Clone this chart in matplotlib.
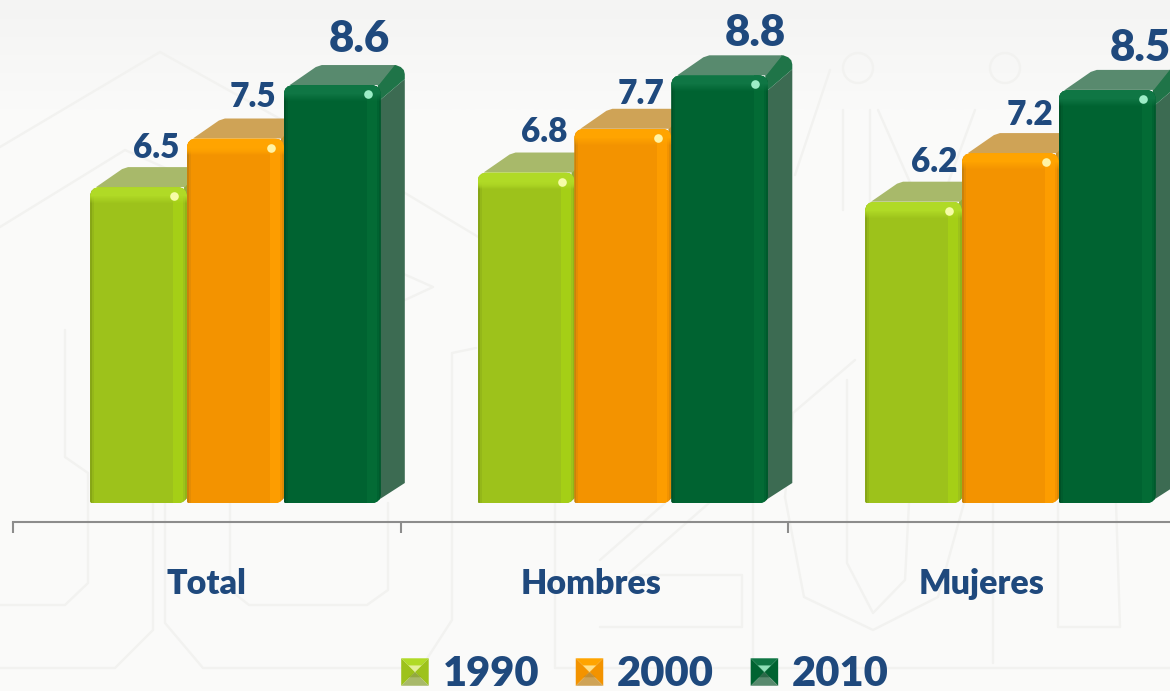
import numpy as np
import matplotlib
matplotlib.use("Agg")
import matplotlib.pyplot as plt
from matplotlib.lines import Line2D
from matplotlib.patches import PathPatch, Polygon, Rectangle, Circle
from matplotlib.path import Path
from matplotlib.transforms import ScaledTranslation
from matplotlib.legend_handler import HandlerBase

categories = ["Total", "Hombres", "Mujeres"]
years = ["1990", "2000", "2010"]
values_1990 = [6.5, 6.8, 6.2]
values_2000 = [7.5, 7.7, 7.2]
values_2010 = [8.6, 8.8, 8.5]

W, H = 1170, 691
FRONT = ["#9dc21b", "#f39300", "#006331"]
LIGHT = ["#a6d116", "#ff9f00", "#046d36"]
BAND = ["#b0da26", "#ffa400", "#0f7644"]
EDGE = ["#7d9a14", "#b97a10", "#004a24"]
TOP = ["#a8b96a", "#cfa356", "#588a6e"]
SIDE = ["#8fa14f", "#b98a3c", "#3c6b52"]
WEDGE = ["#94ab3c", "#c9922f", "#1f7448"]
SPOT = ["#fbffb0", "#fff8b0", "#a5f5cf"]
GLINT = ["#e4f09a", "#ffe08a", "#8fe0b8"]
TEXT = "#1f497d"
WEIGHT = "heavy"
plt.rcParams["font.family"] = ["Lato", "DejaVu Sans"]

fig = plt.figure(figsize=(W / 100, H / 100), dpi=100, facecolor="#fafaf9")

# background and faint watermark, in pixel coordinates
bg = fig.add_axes([0, 0, 1, 1], zorder=-1)
shade = np.linspace(0, 1, 110)[:, None]
bg.imshow(shade, extent=(0, W, 110, 0),
          cmap=matplotlib.colors.LinearSegmentedColormap.from_list("g", ["#f4f4f3", "#fafaf9"]),
          aspect="auto", zorder=0)
bg.set_xlim(0, W); bg.set_ylim(H, 0); bg.axis("off")
wm = dict(color="#f2f2f0", lw=1.7, solid_capstyle="round", solid_joinstyle="round", zorder=1)
strokes = [
    [(0, 147), (160, 52), (300, 130), (480, 238)],
    [(0, 227), (125, 150), (433, 287), (405, 300)],
    [(65, 330), (65, 457), (88, 473), (88, 583), (65, 605), (0, 605)],
    [(153, 503), (153, 630), (115, 668), (0, 668)],
    [(165, 503), (165, 623), (203, 668), (421, 668), (452, 620), (452, 353), (476, 348)],
    [(230, 503), (230, 590), (249, 605), (367, 605), (388, 590), (388, 503)],
    [(555, 503), (555, 668), (1170, 668)],
    [(785, 497), (793, 413), (855, 360)],
    [(785, 497), (804, 597), (873, 630), (938, 597), (964, 503)],
    [(847, 380), (847, 563), (873, 613), (905, 580), (909, 503)],
    [(993, 503), (993, 663)],
    [(1058, 503), (1058, 627), (1120, 627), (1116, 503)],
    [(753, 503), (753, 667)],
    [(636, 575), (742, 575), (742, 627), (600, 627)],
    [(709, 503), (629, 573)],
    [(665, 503), (600, 560)],
    [(843, 110), (843, 210)],
    [(870, 110), (870, 205)],
    [(795, 175), (830, 70)],
    [(878, 110), (920, 205)],
    [(975, 110), (940, 205)],
]
for s in strokes:
    bg.plot(*zip(*s), **wm)
for c in [(858, 68), (1005, 68)]:
    bg.add_patch(Circle(c, 15, fc="none", ec="#f2f2f0", lw=1.7, zorder=1))

# main axes: positions in pixels
left, right, bottom, top = 13, 1170, 522, 0
ax = fig.add_axes([left / W, 1 - bottom / H, (right - left) / W, (bottom - top) / H])
ax.patch.set_alpha(0)
ux, uy = 387.5, 48.6
ax.set_xlim(-0.5, -0.5 + (right - left) / ux)
ax.set_ylim(-19 / uy, 503 / uy)


def px(x0, base, pts):
    """Points given as pixel offsets from a data anchor."""
    return [(x0 + a / ux, base + b / uy) for a, b in pts]


def rounded(x0, x1, v):
    """Front face outline: large top corners, small bottom corners."""
    w = (x1 - x0) * ux
    h = v * uy
    r, b, c = 10, 2, 9
    verts = [(b, 0), (w - c, 0), (w, 0), (w, c), (w, h - r), (w, h), (w - r, h),
             (r, h), (0, h), (0, h - r), (0, b), (0, 0), (b, 0), (b, 0)]
    codes = [Path.MOVETO, Path.LINETO, Path.CURVE3, Path.CURVE3, Path.LINETO, Path.CURVE3, Path.CURVE3,
             Path.LINETO, Path.CURVE3, Path.CURVE3, Path.LINETO, Path.CURVE3, Path.CURVE3, Path.CLOSEPOLY]
    return Path(px(x0, 0, verts), codes)


offsets = [-0.25, 0.0, 0.25]
bw = 97 / ux
WP = 97
DX, DY = 24, 20
series = [values_1990, values_2000, values_2010]

for i, (vals, off) in enumerate(zip(series, offsets)):
    xs = [c + 0.074 + off for c in range(len(categories))]
    z = 2 + i
    for x, v in zip(xs, vals):
        x0 = x - bw / 2
        hv = v * uy
        # side face with slanted lower edge
        ax.add_patch(Polygon(px(x0, 0, [(WP - 7, 0), (WP + DX, DY), (WP + DX, hv + DY - 14), (WP - 3, hv - 17)]),
                             fc=SIDE[i], ec="none", zorder=z))
        # darker wedge between top and side, with a rounded back corner
        ax.add_patch(Polygon(px(x0, 0, [(WP + DX, hv + DY - 14), (WP + DX, hv + DY - 9), (WP + DX - 1, hv + DY - 5),
                                        (WP + DX - 4, hv + DY - 2), (WP + DX - 9, hv + DY), (WP + 13, hv + DY),
                                        (WP - 3, hv), (WP - 3, hv - 17)]),
                             fc=WEDGE[i], ec="none", zorder=z))
        # top face
        ax.add_patch(Polygon(px(x0, 0, [(6, hv), (32, hv + DY - 2), (38, hv + DY), (WP + 14, hv + DY), (WP - 2, hv)]),
                             fc=TOP[i], ec="none", zorder=z))
    bars = ax.bar(xs, vals, width=bw, color=FRONT[i], zorder=z + 0.1, lw=0)
    for b, v in zip(bars, vals):
        x0, x1 = b.get_x(), b.get_x() + b.get_width()
        clip = PathPatch(rounded(x0, x1, v), fc="none", ec="none", transform=ax.transData)
        ax.add_patch(clip)
        b.set_clip_path(clip)
        rects = [
            (x0 + (WP - 14) / ux, 0, 10 / ux, v, LIGHT[i], 0.9),
            (x0 + (WP - 2) / ux, 0, 2 / ux, v, EDGE[i], 0.35),
            (x0, 0, 2 / ux, v, EDGE[i], 0.7),
            (x0 + 2 / ux, 0, 2 / ux, v, EDGE[i], 0.25),
        ]
        rects += [(x0, v - k / uy, b.get_width(), 1.05 / uy, BAND[i], min(1.0, (17 - k) / 8))
                  for k in range(1, 17)]
        for rx, ry, rw, rh, col, al in rects:
            p = Rectangle((rx, ry), rw, rh, fc=col, alpha=al, lw=0, zorder=z + 0.2)
            ax.add_patch(p)
            p.set_clip_path(clip)
        ax.plot([x0 + (WP - 13) / ux], [v - 9 / uy], marker="o", ms=6.2, mec="none",
                mfc=SPOT[i], alpha=0.95, zorder=z + 0.3)

# value labels: pixel offsets from the top of each bar
label_dx = [[18, 18.5, 21], [17.5, 18, 20], [27.5, 36, 33]]
label_dy = [[29, 30.5, 30], [31.5, 25, 28], [33, 29, 29]]
for i, (vals, off) in enumerate(zip(series, offsets)):
    for c, v in enumerate(vals):
        big = i == 2
        ax.annotate(f"{v:.1f}", (c + 0.074 + off, v), xytext=(label_dx[i][c], label_dy[i][c]),
                    textcoords="offset pixels", ha="center", va="baseline",
                    fontsize=31.5 if big else 24, fontweight=WEIGHT,
                    color=TEXT, zorder=10, annotation_clip=False)

# axis
for s in ["left", "right", "top"]:
    ax.spines[s].set_visible(False)
ax.spines["bottom"].set_color("#8c8c8c")
ax.spines["bottom"].set_linewidth(1.5)
ax.yaxis.set_visible(False)
ax.set_xticks([c - 0.5 for c in range(len(categories))])
ax.set_xticklabels([])
ax.tick_params(axis="x", which="major", length=8, width=1.5, color="#8c8c8c")
ax.set_xticks(range(len(categories)), labels=categories, minor=True)
ax.tick_params(axis="x", which="minor", length=0, pad=33, labelsize=24.5, labelcolor=TEXT)
for t in ax.get_xticklabels(minor=True):
    t.set_fontweight(WEIGHT)
hombres = ax.get_xticklabels(minor=True)[1]
hombres.set_transform(hombres.get_transform() + ScaledTranslation(-3 / 100, 0, fig.dpi_scale_trans))


class Pyramid(HandlerBase):
    def create_artists(self, legend, orig, xd, yd, width, height, fontsize, trans):
        i = years.index(orig.get_label())
        s = width
        x0, y0 = 0, (height - s) / 2
        x1, y1 = x0 + s, y0 + s
        cx, cy = (x0 + x1) / 2, (y0 + y1) / 2
        out = [(x0, y1), (x1, y1), (x1, y0), (x0, y0)]
        arts = []
        cols = [BAND[i], FRONT[i], TOP[i], FRONT[i]]
        for k, col in enumerate(cols):
            j = (k + 1) % 4
            arts.append(Polygon([out[k], out[j], (cx, cy)], fc=col, ec="none", transform=trans))
        m = s * 0.24
        arts.append(Polygon([(cx - m, cy + m), (cx + m, cy + m), (cx, cy)], fc=GLINT[i], ec="none", transform=trans))
        arts.append(Polygon([(cx, cy), (cx + m, cy - m * 0.8), (cx - m, cy - m * 0.8)], fc=EDGE[i], alpha=0.5,
                            ec="none", transform=trans))
        return arts


handles = [Line2D([], [], label=y) for y in years]
fig.legend(handles=handles, labels=years, handler_map={Line2D: Pyramid()}, ncol=3,
           loc="lower center", bbox_to_anchor=(645 / W, -0.003), frameon=False,
           prop={"size": 30, "weight": WEIGHT}, labelcolor=TEXT,
           handlelength=0.66, handleheight=0.66, handletextpad=0.33, columnspacing=0.88,
           borderpad=0, borderaxespad=0)

fig.savefig("out.png", dpi=100, facecolor=fig.get_facecolor())
